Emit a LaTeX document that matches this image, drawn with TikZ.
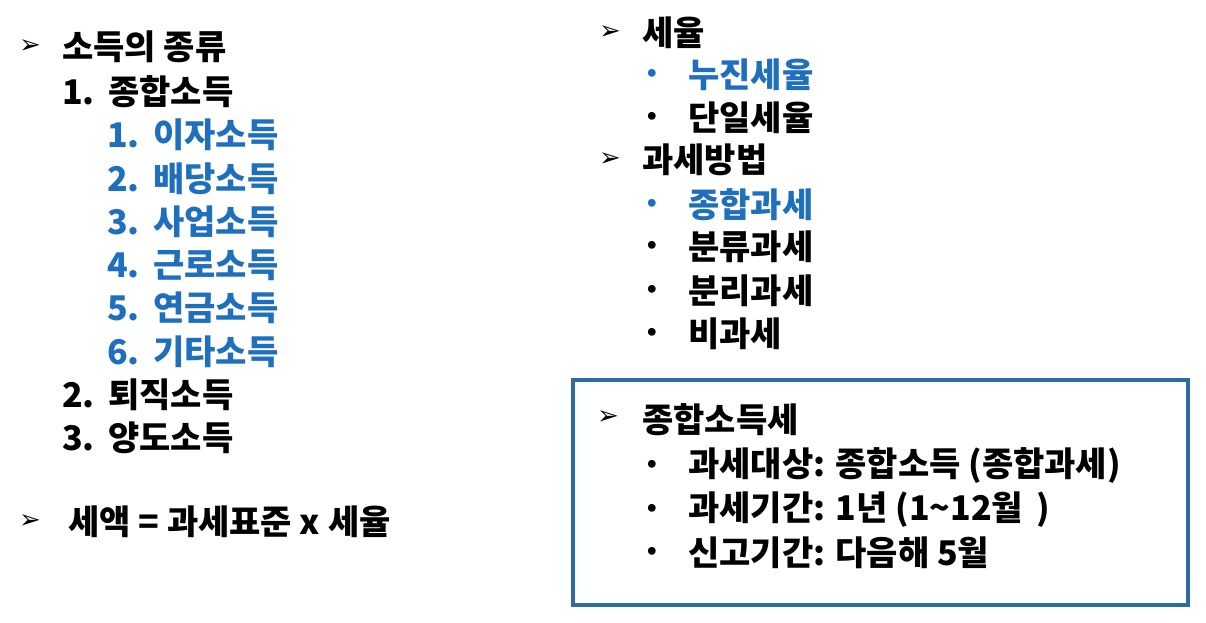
\documentclass[tikz,border=0pt]{standalone}
\usepackage{fontspec}
\setmainfont{Noto Sans CJK KR}[BoldFont={* Black}]
\newfontfamily\sym{DejaVu Sans}
\newcommand\mygap{\hspace{0.4em}}
\definecolor{kblue}{HTML}{1F6FBF}
\definecolor{bframe}{HTML}{2E6B9E}
\begin{document}
\begin{tikzpicture}[x=1pt,y=-1pt,
  t/.style={anchor=west,inner sep=0pt,font=\fontsize{34}{34}\selectfont\bfseries},
  bl/.style={t,text=kblue},
  ar/.style={anchor=center,inner sep=0pt,font=\fontsize{26}{26}\sym\bfseries},
  dot/.style={anchor=center,inner sep=0pt,font=\fontsize{22}{22}\sym\bfseries}]
\useasboundingbox (0,0) rectangle (1206,623);
\fill[white] (0,0) rectangle (1206,623);
% left
\node[ar] (a1) at (30,47) {➢};
\node[t] (h1) at (62,47) {소득의 종류};
\node[t] (n1) at (62,92) {1.\mygap 종합소득};
\node[bl] (s1) at (107,135) {1.\mygap 이자소득};
\node[bl] (s2) at (107,179) {2.\mygap 배당소득};
\node[bl] (s3) at (107,222) {3.\mygap 사업소득};
\node[bl] (s4) at (107,265) {4.\mygap 근로소득};
\node[bl] (s5) at (107,308) {5.\mygap 연금소득};
\node[bl] (s6) at (107,352) {6.\mygap 기타소득};
\node[t] (n2) at (62,395) {2.\mygap 퇴직소득};
\node[t] (n3) at (62,438) {3.\mygap 양도소득};
\node[ar] (a2) at (30,522) {➢};
\node[t] (f) at (68,522) {세액 = 과세표준 x 세율};
% right
\node[ar] (a3) at (610,33) {➢};
\node[t] (r1) at (642,33) {세율};
\node[dot,text=kblue] (d1) at (652,75) {•};
\node[bl] (r2) at (688,75) {누진세율};
\node[dot] (d2) at (652,118) {•};
\node[t] (r3) at (688,118) {단일세율};
\node[ar] (a4) at (610,160) {➢};
\node[t] (r4) at (642,160) {과세방법};
\node[dot,text=kblue] (d3) at (652,205) {•};
\node[bl] (r5) at (688,205) {종합과세};
\node[dot] (d4) at (652,247) {•};
\node[t] (r6) at (688,247) {분류과세};
\node[dot] (d5) at (652,291) {•};
\node[t] (r7) at (688,291) {분리과세};
\node[dot] (d6) at (652,334) {•};
\node[t] (r8) at (688,334) {비과세};
% box
\draw[bframe,line width=3.5pt] (573,380) rectangle (1188,605);
\node[ar] (a5) at (608,418) {➢};
\node[t] (b1) at (642,420) {종합소득세};
\node[dot] (d7) at (652,466) {•};
\node[t] (b2) at (688,466) {과세대상: 종합소득 (종합과세)};
\node[dot] (d8) at (652,510) {•};
\node[t] (b3) at (688,510) {과세기간: 1년 (1\textasciitilde 12월\mygap)};
\node[dot] (d9) at (652,553) {•};
\node[t] (b4) at (688,553) {신고기간: 다음해 5월};
\end{tikzpicture}
\end{document}
